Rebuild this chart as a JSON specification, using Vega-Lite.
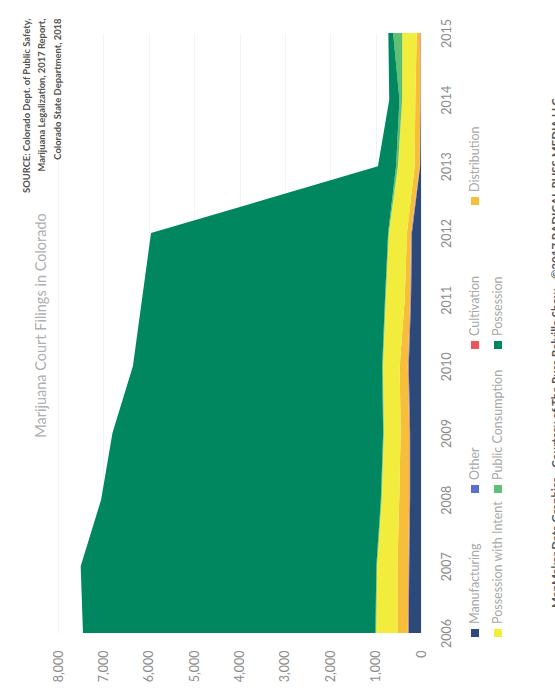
{
  "$schema": "https://vega.github.io/schema/vega-lite/v6.json",
  "background": "white",
  "padding": {"left": 21, "top": 18, "right": 5, "bottom": 5},
  "bounds": "flush",
  "spacing": 54,
  "config": {"font": "Lato", "view": {"stroke": null}},
  "title": {
    "text": ["SOURCE: Colorado Dept. of Public Safety,", "Marijuana Legalization, 2017 Report,", "Colorado State Department, 2018"],
    "orient": "left", "anchor": "end", "angle": -90, "align": "right", "baseline": "bottom",
    "offset": -39, "lineHeight": 15.5,
    "fontSize": 9.4, "fontWeight": "bold", "color": "#555555", "font": "Lato"
  },
  "datasets": {
    "legend": [
      {"series": "Manufacturing", "legendRow": 1, "legendCol": 1},
      {"series": "Other", "legendRow": 1, "legendCol": 2},
      {"series": "Cultivation", "legendRow": 1, "legendCol": 3},
      {"series": "Distribution", "legendRow": 1, "legendCol": 4},
      {"series": "Possession with Intent", "legendRow": 2, "legendCol": 1},
      {"series": "Public Consumption", "legendRow": 2, "legendCol": 2},
      {"series": "Possession", "legendRow": 2, "legendCol": 3}
    ],
    "filings": [
      {"year": 2006, "series": "Manufacturing", "value": 270},
      {"year": 2006, "series": "Other", "value": 10},
      {"year": 2006, "series": "Cultivation", "value": 10},
      {"year": 2006, "series": "Distribution", "value": 230},
      {"year": 2006, "series": "Possession with Intent", "value": 470},
      {"year": 2006, "series": "Public Consumption", "value": 15},
      {"year": 2006, "series": "Possession", "value": 6445},
      {"year": 2007, "series": "Manufacturing", "value": 260},
      {"year": 2007, "series": "Other", "value": 10},
      {"year": 2007, "series": "Cultivation", "value": 10},
      {"year": 2007, "series": "Distribution", "value": 240},
      {"year": 2007, "series": "Possession with Intent", "value": 450},
      {"year": 2007, "series": "Public Consumption", "value": 15},
      {"year": 2007, "series": "Possession", "value": 6515},
      {"year": 2008, "series": "Manufacturing", "value": 240},
      {"year": 2008, "series": "Other", "value": 10},
      {"year": 2008, "series": "Cultivation", "value": 10},
      {"year": 2008, "series": "Distribution", "value": 220},
      {"year": 2008, "series": "Possession with Intent", "value": 390},
      {"year": 2008, "series": "Public Consumption", "value": 15},
      {"year": 2008, "series": "Possession", "value": 6165},
      {"year": 2009, "series": "Manufacturing", "value": 240},
      {"year": 2009, "series": "Other", "value": 10},
      {"year": 2009, "series": "Cultivation", "value": 10},
      {"year": 2009, "series": "Distribution", "value": 190},
      {"year": 2009, "series": "Possession with Intent", "value": 370},
      {"year": 2009, "series": "Public Consumption", "value": 15},
      {"year": 2009, "series": "Possession", "value": 5965},
      {"year": 2010, "series": "Manufacturing", "value": 270},
      {"year": 2010, "series": "Other", "value": 10},
      {"year": 2010, "series": "Cultivation", "value": 10},
      {"year": 2010, "series": "Distribution", "value": 180},
      {"year": 2010, "series": "Possession with Intent", "value": 370},
      {"year": 2010, "series": "Public Consumption", "value": 15},
      {"year": 2010, "series": "Possession", "value": 5495},
      {"year": 2011, "series": "Manufacturing", "value": 220},
      {"year": 2011, "series": "Other", "value": 10},
      {"year": 2011, "series": "Cultivation", "value": 10},
      {"year": 2011, "series": "Distribution", "value": 120},
      {"year": 2011, "series": "Possession with Intent", "value": 420},
      {"year": 2011, "series": "Public Consumption", "value": 15},
      {"year": 2011, "series": "Possession", "value": 5355},
      {"year": 2012, "series": "Manufacturing", "value": 200},
      {"year": 2012, "series": "Other", "value": 10},
      {"year": 2012, "series": "Cultivation", "value": 10},
      {"year": 2012, "series": "Distribution", "value": 90},
      {"year": 2012, "series": "Possession with Intent", "value": 400},
      {"year": 2012, "series": "Public Consumption", "value": 15},
      {"year": 2012, "series": "Possession", "value": 5225},
      {"year": 2013, "series": "Manufacturing", "value": 20},
      {"year": 2013, "series": "Other", "value": 5},
      {"year": 2013, "series": "Cultivation", "value": 5},
      {"year": 2013, "series": "Distribution", "value": 110},
      {"year": 2013, "series": "Possession with Intent", "value": 370},
      {"year": 2013, "series": "Public Consumption", "value": 40},
      {"year": 2013, "series": "Possession", "value": 400},
      {"year": 2014, "series": "Manufacturing", "value": 5},
      {"year": 2014, "series": "Other", "value": 5},
      {"year": 2014, "series": "Cultivation", "value": 5},
      {"year": 2014, "series": "Distribution", "value": 110},
      {"year": 2014, "series": "Possession with Intent", "value": 290},
      {"year": 2014, "series": "Public Consumption", "value": 60},
      {"year": 2014, "series": "Possession", "value": 225},
      {"year": 2015, "series": "Manufacturing", "value": 5},
      {"year": 2015, "series": "Other", "value": 5},
      {"year": 2015, "series": "Cultivation", "value": 5},
      {"year": 2015, "series": "Distribution", "value": 80},
      {"year": 2015, "series": "Possession with Intent", "value": 320},
      {"year": 2015, "series": "Public Consumption", "value": 200},
      {"year": 2015, "series": "Possession", "value": 105}
    ]
  },
  "hconcat": [
    {
      "width": 363,
      "height": 600,
      "data": {"name": "filings"},
      "transform": [
        {"lookup": "series", "from": {"data": {"name": "legend"}, "key": "series", "fields": ["legendRow", "legendCol"]}},
        {"stack": "value", "groupby": ["year"], "sort": [{"field": "legendRow", "order": "ascending"}, {"field": "legendCol", "order": "ascending"}], "as": ["v0", "v1"], "offset": "zero"}
      ],
      "layer": [
        {
          "mark": {"type": "area", "orient": "horizontal", "opacity": 1},
          "encoding": {
            "y": {
              "field": "year", "type": "quantitative",
              "scale": {"domain": [2006, 2015], "zero": false, "nice": false},
              "axis": {
                "orient": "right", "title": null,
                "values": [2006, 2007, 2008, 2009, 2010, 2011, 2012, 2013, 2014, 2015],
                "format": "d", "labelAngle": -90, "labelAlign": "center", "labelBaseline": "top",
                "labelPadding": 19, "ticks": false, "domain": false, "grid": false,
                "labelFlush": false, "labelOverlap": false,
                "labelColor": "#8c8c8c", "labelFontSize": 12.5, "labelFont": "Lato"
              }
            },
            "x": {
              "field": "v0", "type": "quantitative",
              "scale": {"domain": [0, 8000], "reverse": true, "nice": false},
              "axis": {
                "orient": "bottom", "title": null,
                "values": [0, 1000, 2000, 3000, 4000, 5000, 6000, 7000, 8000],
                "format": ",d", "labelAngle": -90, "labelAlign": "right", "labelBaseline": "middle",
                "labelPadding": 17, "ticks": false, "domain": false,
                "grid": true, "gridColor": "#f3f3f3",
                "labelFlush": false, "labelOverlap": false,
                "labelColor": "#8c8c8c", "labelFontSize": 12.5, "labelFont": "Lato"
              }
            },
            "x2": {"field": "v1"},
            "color": {
              "field": "series", "type": "nominal",
              "scale": {
                "domain": ["Manufacturing", "Other", "Cultivation", "Distribution", "Possession with Intent", "Public Consumption", "Possession"],
                "range": ["#2b4a7a", "#5a6fd0", "#f0545a", "#f7be3a", "#f2ec3c", "#5fbf72", "#00875f"]
              },
              "legend": null
            }
          }
        },
        {
          "mark": {"type": "point", "opacity": 0},
          "encoding": {
            "y": {
              "field": "year", "type": "quantitative",
              "axis": {
                "orient": "left", "title": "Marijuana Court Filings in Colorado",
                "labels": false, "ticks": false, "domain": false, "grid": false,
                "titlePadding": 10, "titleY": 292,
                "titleColor": "#b0b0b0", "titleFontSize": 14.5, "titleFontWeight": "normal", "titleFont": "Lato"
              }
            }
          }
        }
      ],
      "resolve": {"axis": {"y": "independent"}}
    },
    {
      "width": 23,
      "height": 600,
      "data": {"name": "legend"},
      "title": {
        "text": "MapMaker Data Graphics - Courtesy of The Russ Belville Show - \u00a92017 RADICAL RUSS MEDIA LLC",
        "orient": "right", "angle": -90, "anchor": "middle", "frame": "group", "baseline": "top",
        "offset": 35, "dx": -20,
        "fontSize": 11.5, "fontWeight": "bold", "color": "#555555", "font": "Lato"
      },
      "encoding": {
        "x": {"field": "legendRow", "type": "ordinal", "scale": {"type": "point", "padding": 0}, "axis": null},
        "y": {"field": "legendCol", "type": "quantitative", "scale": {"domain": [1, 5.1667], "nice": false, "zero": false}, "axis": null}
      },
      "layer": [
        {
          "mark": {"type": "point", "shape": "square", "filled": true, "size": 64, "opacity": 1},
          "encoding": {
            "color": {
              "field": "series", "type": "nominal",
              "scale": {
                "domain": ["Manufacturing", "Other", "Cultivation", "Distribution", "Possession with Intent", "Public Consumption", "Possession"],
                "range": ["#2b4a7a", "#5a6fd0", "#f0545a", "#f7be3a", "#f2ec3c", "#5fbf72", "#00875f"]
              },
              "legend": null
            }
          }
        },
        {
          "mark": {"type": "text", "angle": -90, "align": "left", "baseline": "middle", "dx": 9, "fontSize": 12.5, "color": "#a8a8a8", "font": "Lato"},
          "encoding": {"text": {"field": "series", "type": "nominal"}}
        }
      ]
    }
  ]
}
